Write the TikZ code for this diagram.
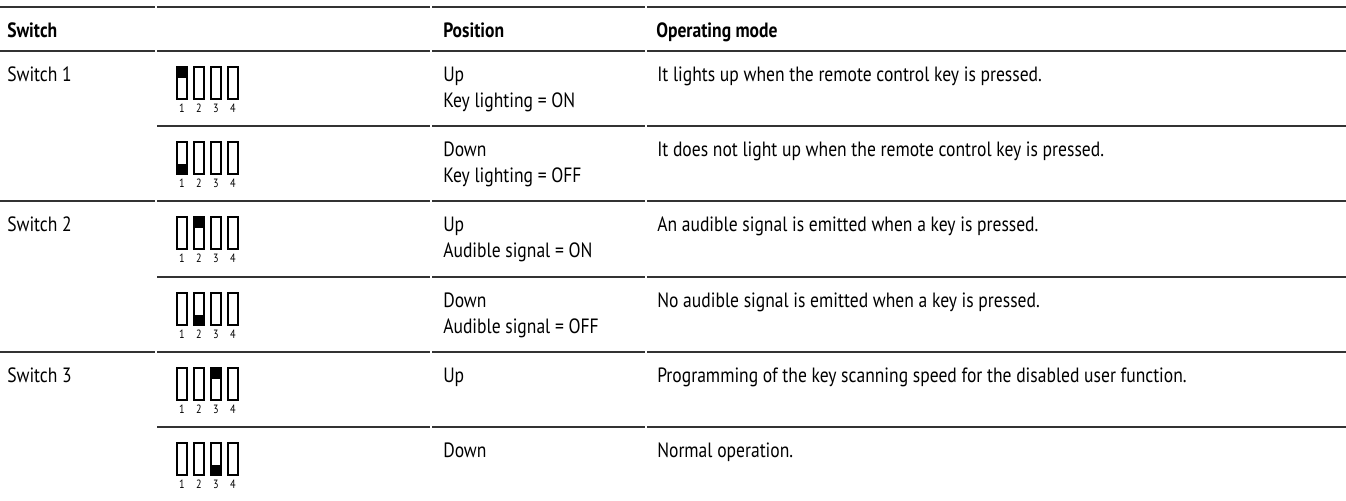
\documentclass[tikz,border=0pt]{standalone}
\usepackage{fontspec}
\setmainfont{PT Sans}[FakeStretch=0.85]
\newcommand\tabrule[2]{%
  \ifnum#2=1 \draw[rule] (0,#1) -- (155,#1);\fi
  \draw[rule] (157,#1) -- (430,#1);
  \draw[rule] (432,#1) -- (645,#1);
  \draw[rule] (647,#1) -- (1346,#1);}
\newcommand\dipsw[3]{% #1 row top, #2 active switch, #3 1=up 0=down
  \foreach \k in {1,...,4}{%
    \pgfmathsetmacro\xl{177+17*(\k-1)}%
    \ifnum\k=#2
      \ifnum#3=1 \fill (\xl,#1+16) rectangle ++(10,11);\else \fill (\xl,#1+38) rectangle ++(10,10);\fi
    \fi
    \draw[swbox] (\xl,#1+16) rectangle ++(10,32);
    \node[num] (n#1-\k) at (\xl+5,#1+57) {\k};
  }}
\begin{document}
\begin{tikzpicture}[x=0.75pt,y=-0.75pt,
  rule/.style={line width=1.4pt,draw=black!80},
  txt/.style={anchor=base west,inner sep=0pt,font=\fontsize{15.5}{17}\selectfont},
  hdr/.style={anchor=base west,inner sep=0pt,font=\fontsize{15.5}{17}\selectfont\bfseries},
  num/.style={inner sep=0pt,font=\fontsize{9}{10}\selectfont},
  swbox/.style={draw=black,line width=0.8pt}]
\useasboundingbox (0,0) rectangle (1346,500);
% rules
\tabrule{7}{1}
\tabrule{51}{1}
\tabrule{126}{0}
\tabrule{201}{1}
\tabrule{277}{0}
\tabrule{352}{1}
\tabrule{427}{0}
% header
\node[hdr] (h1) at (7,37) {Switch};
\node[hdr] (h2) at (443,37) {Position};
\node[hdr] (h3) at (656,37) {Operating mode};
% row 1
\node[txt] (s1) at (7,81) {Switch 1};
\node[txt] (p1a) at (443,81) {Up};
\node[txt] (p1b) at (443,107) {Key lighting = ON};
\node[txt] (m1) at (657,81) {It lights up when the remote control key is pressed.};
\dipsw{51}{1}{1}
% row 2
\node[txt] (p2a) at (443,156) {Down};
\node[txt] (p2b) at (443,182) {Key lighting = OFF};
\node[txt] (m2) at (657,156) {It does not light up when the remote control key is pressed.};
\dipsw{126}{1}{0}
% row 3
\node[txt] (s2) at (7,231) {Switch 2};
\node[txt] (p3a) at (443,231) {Up};
\node[txt] (p3b) at (443,257) {Audible signal = ON};
\node[txt] (m3) at (657,231) {An audible signal is emitted when a key is pressed.};
\dipsw{201}{2}{1}
% row 4
\node[txt] (p4a) at (443,307) {Down};
\node[txt] (p4b) at (443,333) {Audible signal = OFF};
\node[txt] (m4) at (657,307) {No audible signal is emitted when a key is pressed.};
\dipsw{277}{2}{0}
% row 5
\node[txt] (s3) at (7,382) {Switch 3};
\node[txt] (p5a) at (443,382) {Up};
\node[txt] (m5) at (657,382) {Programming of the key scanning speed for the disabled user function.};
\dipsw{352}{3}{1}
% row 6
\node[txt] (p6a) at (443,457) {Down};
\node[txt] (m6) at (657,457) {Normal operation.};
\dipsw{427}{3}{0}
\end{tikzpicture}
\end{document}
